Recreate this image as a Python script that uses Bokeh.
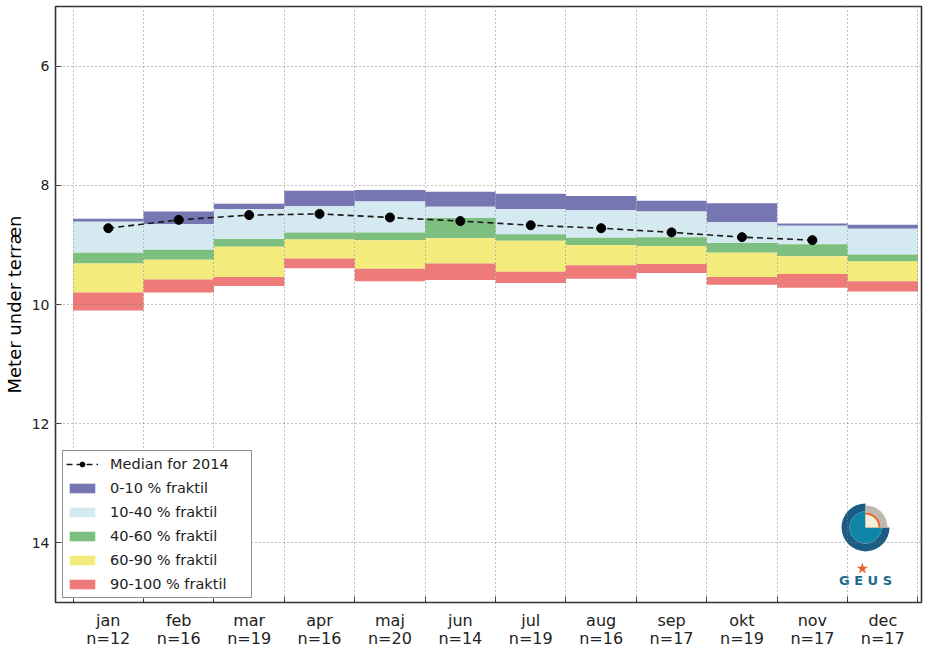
import math
from bokeh.plotting import figure
from bokeh.models import (Range1d, FixedTicker, LinearAxis, Legend, LegendItem, Grid)
from bokeh.core.properties import value
from bokeh.embed import file_html
from bokeh.resources import INLINE

# ---------------- data ----------------
months = ["jan", "feb", "mar", "apr", "maj", "jun", "jul", "aug", "sep", "okt", "nov", "dec"]
n_obs = [12, 16, 19, 16, 20, 14, 19, 16, 17, 19, 17, 17]
q0 = [8.56, 8.44, 8.31, 8.09, 8.08, 8.11, 8.14, 8.18, 8.26, 8.30, 8.64, 8.66]
q10 = [8.61, 8.65, 8.40, 8.35, 8.27, 8.36, 8.40, 8.42, 8.44, 8.62, 8.68, 8.73]
q40 = [9.13, 9.08, 8.90, 8.79, 8.79, 8.55, 8.82, 8.88, 8.87, 8.97, 8.99, 9.16]
q60 = [9.31, 9.25, 9.03, 8.91, 8.92, 8.89, 8.93, 9.00, 9.02, 9.13, 9.19, 9.28]
q90 = [9.80, 9.58, 9.54, 9.23, 9.40, 9.31, 9.45, 9.34, 9.32, 9.54, 9.49, 9.61]
q100 = [10.10, 9.80, 9.69, 9.39, 9.61, 9.59, 9.64, 9.57, 9.47, 9.67, 9.72, 9.78]
median_2014 = [8.72, 8.58, 8.50, 8.48, 8.54, 8.60, 8.67, 8.72, 8.79, 8.87, 8.92]
y_ticks = [6, 8, 10, 12, 14]

band_labels = ["0-10 % fraktil", "10-40 % fraktil", "40-60 % fraktil", "60-90 % fraktil", "90-100 % fraktil"]
band_colors = ["#7676b3", "#d5e9f0", "#7dbf7e", "#f3eb7b", "#ee7a7a"]
band_edges = [q0, q10, q40, q60, q90, q100]

# ---------------- figure ----------------
lefts = [i for i in range(len(months))]
rights = [i + 1 for i in range(len(months))]
centers = [i + 0.5 for i in range(len(months))]
bounds = [i for i in range(len(months) + 1)]

p = figure(width=924, height=650, x_range=Range1d(-0.25, 12.05), y_range=Range1d(15, 5),
           output_backend="svg", toolbar_location=None, x_axis_type=None,
           min_border_left=55, min_border_right=3, min_border_top=6, min_border_bottom=48)
p.background_fill_color = "white"
p.border_fill_color = "white"
p.outline_line_color = "#333333"
p.outline_line_width = 1.6

band_renderers = []
for k in range(5):
    r = p.quad(left=lefts, right=rights, top=band_edges[k], bottom=band_edges[k + 1],
               fill_color=band_colors[k], line_color=None)
    band_renderers.append(r)

ml = p.line(centers[:len(median_2014)], median_2014, line_color="#1a1a1a", line_width=1.6,
            line_dash="6 4")
ms = p.scatter(centers[:len(median_2014)], median_2014, size=9, fill_color="black", line_color="black")

# grids on top of bands
p.ygrid.ticker = FixedTicker(ticks=y_ticks)
p.ygrid.grid_line_color = "#808080"
p.ygrid.grid_line_dash = "1 3"
p.ygrid.level = "guide"
xg = Grid(dimension=0, ticker=FixedTicker(ticks=bounds), grid_line_color="#808080",
          grid_line_dash="1 3", level="guide")
p.add_layout(xg)

# y axis
ya = p.yaxis[0]
ya.ticker = FixedTicker(ticks=y_ticks)
ya.major_tick_in = 6
ya.major_tick_out = 0
ya.major_tick_line_color = "#333333"
ya.minor_tick_line_color = None
ya.axis_line_color = None
ya.major_label_text_font = "DejaVu Sans"
ya.major_label_text_font_size = "14px"
ya.major_label_text_color = "#222222"
ya.major_label_standoff = 6
ya.axis_label = "Meter under terræn"
ya.axis_label_text_font = "DejaVu Sans"
ya.axis_label_text_font_size = "18px"
ya.axis_label_text_font_style = "normal"
ya.axis_label_text_color = "black"
ya.axis_label_standoff = 4

# x axes: tick marks at month boundaries (minor ticks), labels at centers
ax_month = LinearAxis(ticker=FixedTicker(ticks=centers, minor_ticks=bounds),
                      major_label_overrides={c: m for c, m in zip(centers, months)},
                      major_tick_line_color=None, minor_tick_line_color="#333333",
                      minor_tick_in=6, minor_tick_out=0, axis_line_color=None,
                      major_label_text_font="DejaVu Sans", major_label_text_font_size="16px",
                      major_label_text_color="#222222", major_label_standoff=2)
ax_n = LinearAxis(ticker=FixedTicker(ticks=centers),
                  major_label_overrides={c: "n=%d" % n for c, n in zip(centers, n_obs)},
                  major_tick_line_color=None, minor_tick_line_color=None, axis_line_color=None,
                  major_label_text_font="DejaVu Sans", major_label_text_font_size="16px",
                  major_label_text_color="#222222", major_label_standoff=-10)
p.add_layout(ax_month, "below")
p.add_layout(ax_n, "below")

# legend
items = [LegendItem(label="Median for 2014", renderers=[ml, ms])]
for lab, r in zip(band_labels, band_renderers):
    items.append(LegendItem(label=lab, renderers=[r]))
legend = Legend(items=items, location=(7, 4), orientation="vertical",
                border_line_color="#222222", border_line_width=1.5,
                background_fill_color="white", background_fill_alpha=1.0,
                label_text_font="DejaVu Sans", label_text_font_size="14.5px",
                label_text_color="#222222",
                glyph_width=32, glyph_height=12, label_height=20, label_width=138,
                spacing=4, padding=3, margin=0, label_standoff=12)
p.add_layout(legend, "center")

# GEUS logo (decoration)
lx, ly = 11.255, 13.74
p.annular_wedge(x=[lx], y=[ly], inner_radius=16, outer_radius=24, inner_radius_units="screen",
                outer_radius_units="screen", start_angle=math.pi / 2, end_angle=2 * math.pi,
                fill_color="#1b5c84", line_color=None)
p.annular_wedge(x=[lx], y=[ly], inner_radius=15, outer_radius=22, inner_radius_units="screen",
                outer_radius_units="screen", start_angle=0, end_angle=math.pi / 2,
                fill_color="#bfb8b1", line_color=None)
p.wedge(x=[lx], y=[ly], radius=16, radius_units="screen", start_angle=math.pi / 2,
        end_angle=2 * math.pi, fill_color="#0f86a8", line_color=None)
p.wedge(x=[lx], y=[ly], radius=15, radius_units="screen", start_angle=0, end_angle=math.pi / 2,
        fill_color="#e8622c", line_color=None)
p.wedge(x=[lx], y=[ly], radius=13, radius_units="screen", start_angle=0, end_angle=math.pi / 2,
        fill_color="#f4efd8", line_color=None)
p.scatter(x=[11.21], y=[14.43], marker="star", size=12, fill_color="#e8622c", line_color=None)
p.text(x=[11.255], y=[14.63], text=["G E U S"], text_align="center", text_baseline="middle",
       text_font=value("DejaVu Sans"), text_font_size="13px", text_font_style="bold",
       text_color="#1b6a8e")

open("out.html", "w").write(file_html(p, INLINE))
